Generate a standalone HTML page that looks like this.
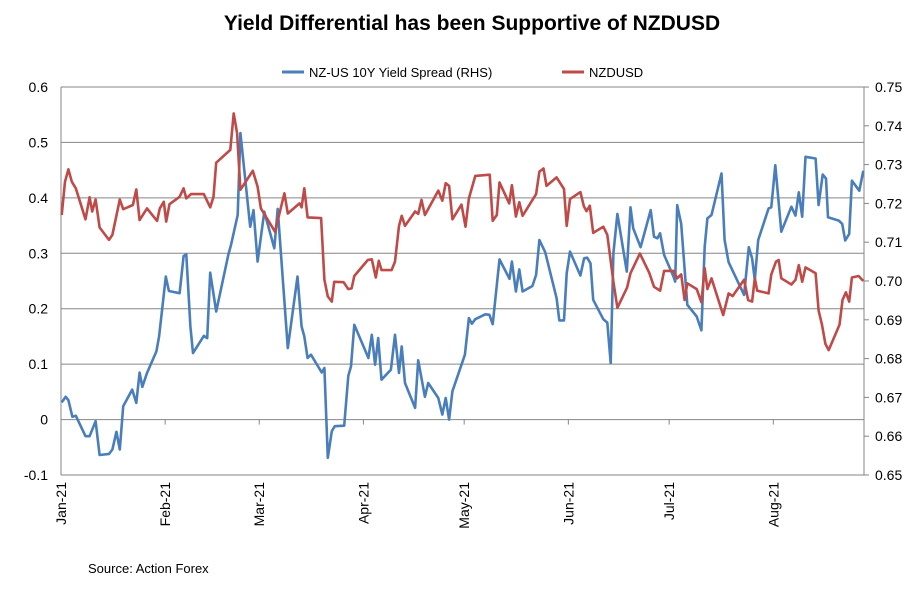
<!DOCTYPE html>
<html><head><meta charset="utf-8"><style>
body{margin:0;background:#fff;font-family:"Liberation Sans",Arial,sans-serif}
svg text{font-family:"Liberation Sans",Arial,sans-serif}
</style></head><body>
<svg id="chart" width="917" height="593" viewBox="0 0 917 593" xmlns="http://www.w3.org/2000/svg">
<text x="472" y="30" text-anchor="middle" font-size="21" font-weight="bold">Yield Differential has been Supportive of NZDUSD</text>
<g>
<line x1="282" y1="72" x2="304" y2="72" stroke="#4a7ebb" stroke-width="3"/>
<text x="309" y="77" font-size="13">NZ-US 10Y Yield Spread (RHS)</text>
<line x1="562" y1="72" x2="584" y2="72" stroke="#be4b48" stroke-width="3"/>
<text x="589" y="77" font-size="13">NZDUSD</text>
</g>
<g id="grid"></g><g id="axes"></g><g id="series"></g>
<text x="88" y="573" font-size="13">Source: Action Forex</text>
</svg>
<script>
const leftTicks=[0.6,0.5,0.4,0.3,0.2,0.1,0,-0.1];
const rightTicks=[0.75,0.74,0.73,0.72,0.71,0.70,0.69,0.68,0.67,0.66,0.65];
const monthLabels=["Jan-21","Feb-21","Mar-21","Apr-21","May-21","Jun-21","Jul-21","Aug-21"];
const monthDays=[0,31,59,90,120,151,181,212];
const spreadDays=[0.2,1.4,2.2,3.4,4.4,7.3,8.5,10.3,11.5,14.3,15.3,16.5,17.5,18.5,21.2,22.4,23.4,24.2,25.6,28.4,29.2,31.2,32.1,35.3,36.5,37.3,38.5,39.3,42.5,43.5,44.4,46.2,49.8,50.6,52.6,53.4,56.3,57.3,58.5,60.5,63.5,64.5,67.5,70.4,71.6,72.4,73.4,74.4,77.6,78.4,79.4,80.6,81.5,84.3,85.5,86.3,87.3,91.5,92.5,93.5,94.4,95.4,98.2,99.4,100.6,101.4,102.4,105.4,106.3,108.3,109.3,112.3,113.5,114.5,115.5,116.5,120.2,121.4,122.3,123.3,126.3,127.5,128.5,130.5,133.5,134.2,135.4,136.4,137.4,140.3,141.4,142.4,144.1,147.5,148.3,149.7,150.5,151.5,154.6,155.7,156.6,157.6,158.4,161.4,162.6,163.6,164.4,165.6,168.4,169.5,170.3,172.5,175.5,176.5,177.5,178.3,179.5,182.3,182.8,183.4,184.6,186.4,189.2,190.6,191.6,192.4,193.6,196.6,197.5,198.7,203.3,204.7,205.7,206.5,207.5,210.6,211.4,212.6,214.4,217.4,218.6,219.6,220.6,221.6,224.6,225.5,226.7,227.7,228.3,231.5,232.5,233.4,234.6,235.4,237.6,238.8];
const spreadValues=[0.031,0.041,0.035,0.005,0.007,-0.030,-0.030,-0.003,-0.064,-0.062,-0.054,-0.022,-0.054,0.024,0.054,0.030,0.085,0.059,0.084,0.123,0.150,0.258,0.232,0.228,0.295,0.298,0.168,0.120,0.151,0.147,0.265,0.195,0.297,0.315,0.369,0.517,0.348,0.378,0.285,0.375,0.309,0.380,0.129,0.258,0.168,0.150,0.111,0.117,0.085,0.093,-0.069,-0.021,-0.012,-0.011,0.079,0.096,0.171,0.111,0.153,0.099,0.147,0.072,0.090,0.153,0.084,0.132,0.066,0.021,0.107,0.041,0.066,0.039,0.009,0.039,0.000,0.051,0.117,0.183,0.173,0.181,0.190,0.189,0.172,0.289,0.254,0.285,0.231,0.271,0.231,0.241,0.261,0.324,0.302,0.219,0.179,0.179,0.264,0.303,0.260,0.291,0.292,0.282,0.216,0.181,0.175,0.102,0.300,0.371,0.267,0.383,0.345,0.311,0.378,0.330,0.327,0.336,0.297,0.258,0.249,0.387,0.353,0.207,0.186,0.161,0.312,0.363,0.369,0.444,0.324,0.284,0.225,0.311,0.291,0.252,0.324,0.381,0.383,0.459,0.339,0.384,0.368,0.410,0.366,0.474,0.471,0.387,0.442,0.435,0.365,0.359,0.353,0.323,0.335,0.431,0.413,0.449];
const fxDays=[0.2,1.2,2.2,3.2,4.4,7.3,8.5,9.3,10.3,11.5,14.3,15.3,17.5,18.5,21.4,22.4,23.4,25.6,28.6,29.4,30.6,31.3,32.3,35.3,36.5,37.3,38.7,42.5,44.4,45.4,46.2,50.4,51.4,52.4,53.4,57.1,58.5,59.5,63.7,66.5,67.5,71.0,71.6,72.4,73.4,77.4,78.4,79.4,80.6,81.3,84.1,85.5,86.5,87.3,91.3,92.5,93.7,94.6,95.4,98.4,99.4,100.6,101.4,102.4,105.4,106.3,107.3,108.3,112.3,113.5,114.5,115.5,116.5,119.2,120.4,121.4,123.3,127.6,128.5,129.7,130.5,133.4,134.2,135.4,136.4,137.4,141.4,142.4,143.6,144.5,147.5,149.7,150.5,151.5,154.6,155.6,156.4,157.4,158.4,161.4,162.6,164.4,165.6,168.5,169.5,172.3,175.1,176.5,178.3,179.5,182.3,183.4,184.6,185.6,186.4,189.2,190.6,191.6,192.4,193.6,197.1,198.7,199.9,203.3,204.5,205.7,206.5,207.2,210.6,211.4,212.8,213.6,214.4,217.4,218.6,219.6,220.6,221.6,224.6,225.5,226.5,227.5,228.5,231.7,232.6,233.6,234.6,235.4,237.4,238.8];
const fxValues=[0.7170,0.7256,0.7288,0.7256,0.7239,0.7159,0.7216,0.7179,0.7210,0.7138,0.7106,0.7119,0.7210,0.7185,0.7196,0.7236,0.7157,0.7187,0.7155,0.7187,0.7204,0.7153,0.7198,0.7217,0.7239,0.7213,0.7224,0.7224,0.7190,0.7217,0.7305,0.7338,0.7432,0.7381,0.7235,0.7284,0.7243,0.7187,0.7127,0.7226,0.7174,0.7200,0.7190,0.7239,0.7164,0.7162,0.7003,0.6960,0.6947,0.6998,0.6997,0.6979,0.6981,0.7013,0.7054,0.7056,0.7009,0.7052,0.7028,0.7028,0.7050,0.7142,0.7168,0.7142,0.7179,0.7173,0.7209,0.7170,0.7233,0.7207,0.7252,0.7245,0.7159,0.7197,0.7140,0.7213,0.7271,0.7274,0.7155,0.7170,0.7254,0.7200,0.7247,0.7166,0.7203,0.7168,0.7224,0.7282,0.7290,0.7245,0.7267,0.7237,0.7142,0.7211,0.7229,0.7193,0.7180,0.7194,0.7124,0.7140,0.7119,0.6998,0.6931,0.6983,0.7020,0.7071,0.7021,0.6985,0.6975,0.7026,0.7026,0.7007,0.7017,0.6951,0.6994,0.6979,0.6945,0.7033,0.6979,0.7007,0.6912,0.6968,0.6961,0.7003,0.6951,0.6947,0.7007,0.6975,0.6968,0.7017,0.7050,0.7054,0.7007,0.6991,0.7003,0.7041,0.6998,0.7035,0.7020,0.6924,0.6887,0.6838,0.6822,0.6887,0.6951,0.6971,0.6947,0.7009,0.7013,0.7000];

const NS="http://www.w3.org/2000/svg";
const X0=61,X1=864,Y0=87,Y1=475,DMAX=239;
const xS=d=>X0+(d/DMAX)*(X1-X0);
const yL=v=>Y1-(v+0.1)/0.7*(Y1-Y0);
const yR=v=>Y1-(v-0.65)/0.10*(Y1-Y0);
function mk(tag,attrs,parent){const e=document.createElementNS(NS,tag);for(const k in attrs)e.setAttribute(k,attrs[k]);parent.appendChild(e);return e;}
const grid=document.getElementById('grid'),axes=document.getElementById('axes'),series=document.getElementById('series');
leftTicks.forEach(t=>{
  const y=yL(t);
  const g=mk('line',{x1:X0,x2:X1,y1:y,y2:y,stroke:'#868686','stroke-width':1},grid);
  
  
  const tx=mk('text',{x:48,y:y+5,'text-anchor':'end','font-size':14},axes);
  tx.textContent=String(t);
  
  
});
const la=mk('line',{x1:X0,x2:X0,y1:Y0,y2:Y1,stroke:'#868686'},axes);


const ra=mk('line',{x1:X1,x2:X1,y1:Y0,y2:Y1,stroke:'#868686'},axes);


rightTicks.forEach(t=>{
  const y=yR(t);
  const tk=mk('line',{x1:X1,x2:X1+5,y1:y,y2:y,stroke:'#868686'},axes);
  
  
  const tx=mk('text',{x:875,y:y+5,'font-size':14},axes);
  tx.textContent=t.toFixed(2);
  
  
});
const y0=yL(0);
monthDays.forEach((d,i)=>{
  const x=xS(d);
  const tk=mk('line',{x1:x,x2:x,y1:y0,y2:y0+5,stroke:'#868686'},axes);
  
  
  const tx=mk('text',{x:0,y:0,'font-size':14,'text-anchor':'end',transform:`translate(${x+5},482) rotate(-90)`},axes);
  tx.textContent=monthLabels[i];
  
  
});
const p1=mk('polyline',{points:spreadDays.map((d,i)=>xS(d).toFixed(1)+','+yL(spreadValues[i]).toFixed(1)).join(' '),fill:'none',stroke:'#4a7ebb','stroke-width':2.6,'stroke-linejoin':'round'},series);


const p2=mk('polyline',{points:fxDays.map((d,i)=>xS(d).toFixed(1)+','+yR(fxValues[i]).toFixed(1)).join(' '),fill:'none',stroke:'#be4b48','stroke-width':2.6,'stroke-linejoin':'round'},series);


</script>
</body></html>
